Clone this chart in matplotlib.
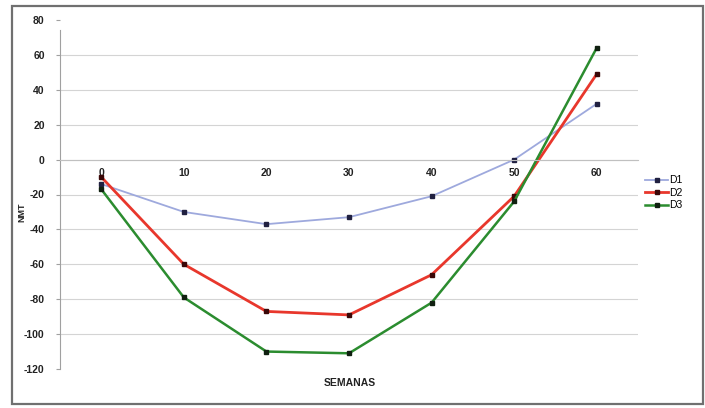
import numpy as np
import matplotlib.pyplot as plt
import matplotlib
from matplotlib import font_manager
from matplotlib.patches import Rectangle

matplotlib.rcParams['font.family'] = ['Liberation Sans', 'DejaVu Sans']
matplotlib.rcParams['font.size'] = 7
matplotlib.rcParams['axes.unicode_minus'] = False

# pick the regular-width bold face, not the narrow one
bold_file = None
for f in font_manager.findSystemFonts():
    if f.endswith('LiberationSans-Bold.ttf'):
        bold_file = f
        break
if bold_file:
    bold = font_manager.FontProperties(fname=bold_file)
else:
    bold = font_manager.FontProperties(family='DejaVu Sans', weight='bold')

semanas = [0, 10, 20, 30, 40, 50, 60]
d1 = [-14, -30, -37, -33, -21, 0, 32]
d2 = [-10, -60, -87, -89, -66, -21, 49]
d3 = [-17, -79, -110, -111, -82, -24, 64]
yticks = [-120, -100, -80, -60, -40, -20, 0, 20, 40, 60, 80]

fig = plt.figure(figsize=(7.05, 4.08), dpi=100)
# outer chart frame
fig.patches.append(Rectangle((12/705, 4/408), 691/705, 398/408, transform=fig.transFigure,
                             fill=False, edgecolor='#707070', linewidth=1.6))

ax = fig.add_axes([60/705, 1-369/408, 578/705, 349/408])
xi = np.arange(len(semanas))

for y in yticks[1:-1]:
    ax.axhline(y, color='#d4d4d4', linewidth=0.8, zorder=0)

ax.plot(xi, d1, color='#9ea9dd', linewidth=1.3, marker='s', markersize=2.2,
        markerfacecolor='#202040', markeredgecolor='#202040', label='D1')
ax.plot(xi, d2, color='#e8372c', linewidth=2.0, marker='s', markersize=3.5,
        markerfacecolor='#3a0808', markeredgecolor='#3a0808', label='D2')
ax.plot(xi, d3, color='#2b8c2f', linewidth=1.8, marker='s', markersize=2.6,
        markerfacecolor='#102010', markeredgecolor='#102010', label='D3')

ax.set_xlim(-0.5, len(semanas) - 0.5)
ax.set_ylim(-120, 80)
ax.set_yticks(yticks)
ax.set_xticks(xi)
ax.set_xticklabels([str(s) for s in semanas])

ax.spines['top'].set_visible(False)
ax.spines['right'].set_visible(False)
ax.spines['left'].set_color('#a0a0a0')
ax.spines['left'].set_bounds(-120, 74)
ax.spines['bottom'].set_position(('data', 0))
ax.spines['bottom'].set_color('#c0c0c0')
ax.tick_params(axis='y', length=3, color='#a0a0a0', pad=8)
ax.tick_params(axis='x', length=0, pad=6)
for lbl in ax.get_xticklabels() + ax.get_yticklabels():
    lbl.set_fontproperties(bold)
    lbl.set_fontsize(7.5)
    lbl.set_color('#222222')

fig.text(350/705, 1-383/408, 'SEMANAS', ha='center', va='center',
         fontproperties=bold, fontsize=7.5, color='#222222')
fig.text(22/705, 1-212/408, 'NMT', ha='center', va='center', rotation=90,
         fontproperties=bold, fontsize=6.5, color='#222222')

ax.legend(loc='upper left', bbox_to_anchor=(640/705, 1-170/408), bbox_transform=fig.transFigure,
          frameon=False, fontsize=7.5, handlelength=2.2, handletextpad=0.1,
          labelspacing=0.25, borderpad=0)

fig.savefig('out.png', dpi=100)
